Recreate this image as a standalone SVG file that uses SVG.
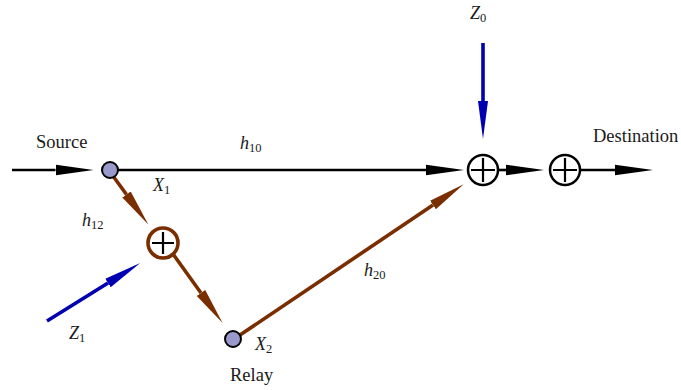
<svg xmlns="http://www.w3.org/2000/svg" width="681" height="390" viewBox="0 0 681 390">
<style>
text{font-family:"Liberation Serif",serif;fill:#1a1a1a}
.l{font-size:18.500px}
.m{font-size:18px;font-style:italic}
.s{font-size:12.500px;font-style:normal}
.k{stroke:#000;stroke-width:2.600;fill:none}
.b{stroke:#7a2e00;stroke-width:3.600;fill:none}
.u{stroke:#0000b0;stroke-width:3.600;fill:none}
.sum{fill:#fff;stroke-width:2.500}
.pl{stroke-width:2.200;fill:none}
.n{fill:#9999cc;stroke:#000;stroke-width:2}
</style>
<defs>
<marker id="ak" markerUnits="userSpaceOnUse" markerWidth="42" markerHeight="12" refX="0" refY="6" orient="auto"><path d="M0 .8L38 6L0 11.200Z" fill="#000"/></marker>
<marker id="ab" markerUnits="userSpaceOnUse" markerWidth="42" markerHeight="12" refX="0" refY="6" orient="auto"><path d="M0 .8L37 6L0 11.200Z" fill="#7a2e00"/></marker>
<marker id="au" markerUnits="userSpaceOnUse" markerWidth="42" markerHeight="12" refX="0" refY="6" orient="auto"><path d="M0 1L38 6L0 11Z" fill="#0000b0"/></marker>
</defs>
<g id="connectors">
<line class="k" x1="12" y1="170" x2="55.500" y2="170" marker-end="url(#ak)"/>
<line class="k" x1="110" y1="170" x2="426" y2="170" marker-end="url(#ak)"/>
<line class="k" x1="499" y1="170" x2="506" y2="170" marker-end="url(#ak)"/>
<line class="k" x1="581" y1="170" x2="615" y2="170" marker-end="url(#ak)"/>
<line class="b" x1="113" y1="176" x2="126.500" y2="194.500" marker-end="url(#ab)"/>
<line class="b" x1="173" y1="254" x2="201" y2="293" marker-end="url(#ab)"/>
<line class="b" x1="240" y1="335" x2="433" y2="205" marker-end="url(#ab)"/>
<line class="u" x1="47" y1="321" x2="108" y2="283" marker-end="url(#au)"/>
<line class="u" x1="483" y1="43" x2="483" y2="101" marker-end="url(#au)"/>
</g>
<g id="source"><circle class="n" cx="110" cy="170" r="8"/><text class="l" x="36" y="148">Source</text></g>
<g id="relay"><circle class="n" cx="233" cy="339" r="8"/><text class="l" x="230" y="381">Relay</text></g>
<g id="sum-relay"><circle cx="163" cy="243" r="15" fill="#fff" stroke="#7a2e00" stroke-width="3.600"/><path class="pl" stroke="#000" d="M152 243H174M163 232V254"/></g>
<g id="sum-z0"><circle class="sum" cx="483" cy="170" r="15" stroke="#000"/><path class="pl" stroke="#000" d="M471 170H495M483 158V182"/></g>
<g id="sum-dest"><circle class="sum" cx="565" cy="170" r="15" stroke="#000"/><path class="pl" stroke="#000" d="M553 170H577M565 158V182"/><text class="l" x="593" y="142">Destination</text></g>
<g id="labels">
<text class="m" x="240" y="149">h<tspan class="s" dy="3">10</tspan></text>
<text class="m" x="153" y="191">X<tspan class="s" dy="3">1</tspan></text>
<text class="m" x="82" y="226">h<tspan class="s" dy="3">12</tspan></text>
<text class="m" x="364" y="276">h<tspan class="s" dy="3">20</tspan></text>
<text class="m" x="255" y="350">X<tspan class="s" dy="3">2</tspan></text>
<text class="m" x="69" y="339">Z<tspan class="s" dy="3">1</tspan></text>
<text class="m" x="470" y="19">Z<tspan class="s" dy="3">0</tspan></text>
</g>
</svg>
